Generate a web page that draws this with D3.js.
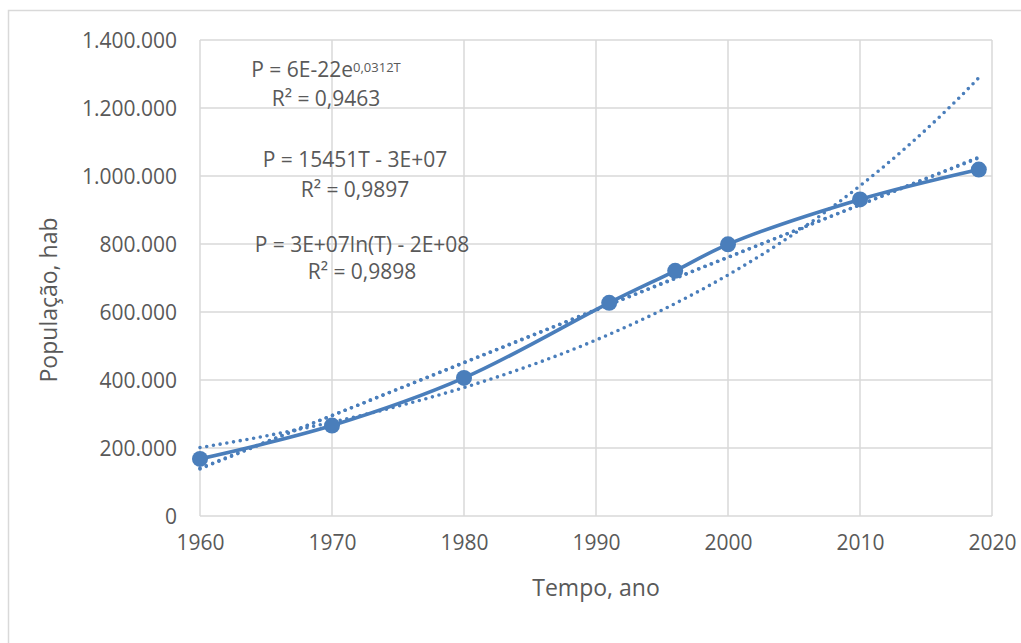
<!DOCTYPE html>
<html>
<head>
<meta charset="utf-8">
<script src="https://cdn.jsdelivr.net/npm/d3@7"></script>
<style>
  body { margin: 0; background: #fff; }
  svg text { font-family: "Open Sans", sans-serif; fill: #595959; }
</style>
</head>
<body>
<svg class="chart" width="1021" height="643"></svg>
<script>
// data
let years = [1960, 1970, 1980, 1991, 1996, 2000, 2010, 2019];
let pop = [168000, 266000, 406000, 627000, 721000, 799000, 931000, 1019000];

let yTicks = [0, 200000, 400000, 600000, 800000, 1000000, 1200000, 1400000];
let xTicks = [1960, 1970, 1980, 1990, 2000, 2010, 2020];

let labels = [
  { eq: ['P = 6E-22e', '0,0312T'], r2: 'R² = 0,9463', cx: 326, y1: 70, y2: 99 },
  { eq: ['P = 15451T - 3E+07'], r2: 'R² = 0,9897', cx: 355, y1: 160, y2: 190 },
  { eq: ['P = 3E+07ln(T) - 2E+08'], r2: 'R² = 0,9898', cx: 362, y1: 245, y2: 272 }
];

let margin = { top: 40, right: 29, bottom: 127, left: 200 };
let width = 1021 - margin.left - margin.right;
let height = 643 - margin.top - margin.bottom;
let blue = '#4a7ebb';
let grid = '#d9d9d9';

let x = d3.scaleLinear().domain([1960, 2020]).range([0, width]);
let y = d3.scaleLinear().domain([0, 1400000]).range([height, 0]);

let svg = d3.select('.chart');

svg.append('rect')
    .attr('x', 8.5).attr('y', 10.5)
    .attr('width', 1030).attr('height', 650)
    .attr('fill', 'none').attr('stroke', grid).attr('stroke-width', 1.5);

let chart = svg.append('g')
    .attr('transform', 'translate(' + margin.left + ',' + margin.top + ')');

// gridlines
chart.append('g').selectAll('line')
    .data(yTicks).enter().append('line')
    .attr('x1', 0).attr('x2', width)
    .attr('y1', d => y(d)).attr('y2', d => y(d))
    .attr('stroke', grid).attr('stroke-width', 1.5);

chart.append('g').selectAll('line')
    .data(xTicks).enter().append('line')
    .attr('x1', d => x(d)).attr('x2', d => x(d))
    .attr('y1', 0).attr('y2', height)
    .attr('stroke', grid).attr('stroke-width', 1.5);

// axes (labels only)
let yAxis = d3.axisLeft(y).tickValues(yTicks).tickSize(0).tickPadding(23)
    .tickFormat(d => d3.format(',')(d).replace(/,/g, '.'));
let gy = chart.append('g').call(yAxis);
gy.select('.domain').remove();
gy.selectAll('text').attr('font-size', 21).attr('font-family', null).attr('dy', '0.35em');

let xAxis = d3.axisBottom(x).tickValues(xTicks).tickSize(0).tickPadding(19)
    .tickFormat(d3.format('d'));
let gx = chart.append('g').attr('transform', 'translate(0,' + height + ')').call(xAxis);
gx.select('.domain').remove();
gx.selectAll('text').attr('font-size', 21).attr('font-family', null);

// trendlines (least squares on the data, like the spreadsheet does)
let n = years.length;
function fit(fx, fy) {
  let xs = years.map(fx), ys = pop.map(fy);
  let mx = d3.mean(xs), my = d3.mean(ys);
  let b = d3.sum(xs, (v, i) => (v - mx) * (ys[i] - my)) / d3.sum(xs, v => (v - mx) * (v - mx));
  return { a: my - b * mx, b: b };
}
let lin = fit(t => t, p => p);
let lg = fit(t => Math.log(t), p => p);
let ex = fit(t => t, p => Math.log(p));

let tt = d3.range(years[0], years[n - 1] + 0.01, 0.5);
let trends = [
  tt.map(t => [t, lin.a + lin.b * t]),
  tt.map(t => [t, lg.a + lg.b * Math.log(t)]),
  tt.map(t => [t, Math.exp(ex.a + ex.b * t)])
];

let line = d3.line().x(d => x(d[0])).y(d => y(d[1]));

chart.append('g').selectAll('path')
    .data(trends).enter().append('path')
    .attr('d', line)
    .attr('fill', 'none')
    .attr('stroke', blue)
    .attr('stroke-width', 3.6)
    .attr('stroke-linecap', 'round')
    .attr('stroke-dasharray', '0,6.8');

// data series
let pts = years.map((t, i) => [t, pop[i]]);
chart.append('path')
    .datum(pts)
    .attr('d', line.curve(d3.curveCatmullRom.alpha(0.5)))
    .attr('fill', 'none')
    .attr('stroke', blue)
    .attr('stroke-width', 3.6)
    .attr('stroke-linecap', 'round');

chart.append('g').selectAll('circle')
    .data(pts).enter().append('circle')
    .attr('cx', d => x(d[0])).attr('cy', d => y(d[1]))
    .attr('r', 8)
    .attr('fill', blue);

// equation labels
labels.forEach(l => {
  let t1 = svg.append('text')
      .attr('x', l.cx).attr('y', l.y1).attr('dy', '0.35em')
      .attr('text-anchor', 'middle').attr('font-size', 21);
  t1.append('tspan').text(l.eq[0]);
  if (l.eq[1]) {
    t1.append('tspan').attr('dy', '-0.45em').attr('font-size', 13).text(l.eq[1]);
  }
  svg.append('text')
      .attr('x', l.cx).attr('y', l.y2).attr('dy', '0.35em')
      .attr('text-anchor', 'middle').attr('font-size', 21)
      .text(l.r2);
});

// axis titles
svg.append('text')
    .attr('transform', 'translate(49,300) rotate(-90)')
    .attr('dy', '0.35em')
    .attr('text-anchor', 'middle').attr('font-size', 23)
    .text('População, hab');

svg.append('text')
    .attr('x', 596).attr('y', 588).attr('dy', '0.35em')
    .attr('text-anchor', 'middle').attr('font-size', 23)
    .text('Tempo, ano');
</script>
</body>
</html>
